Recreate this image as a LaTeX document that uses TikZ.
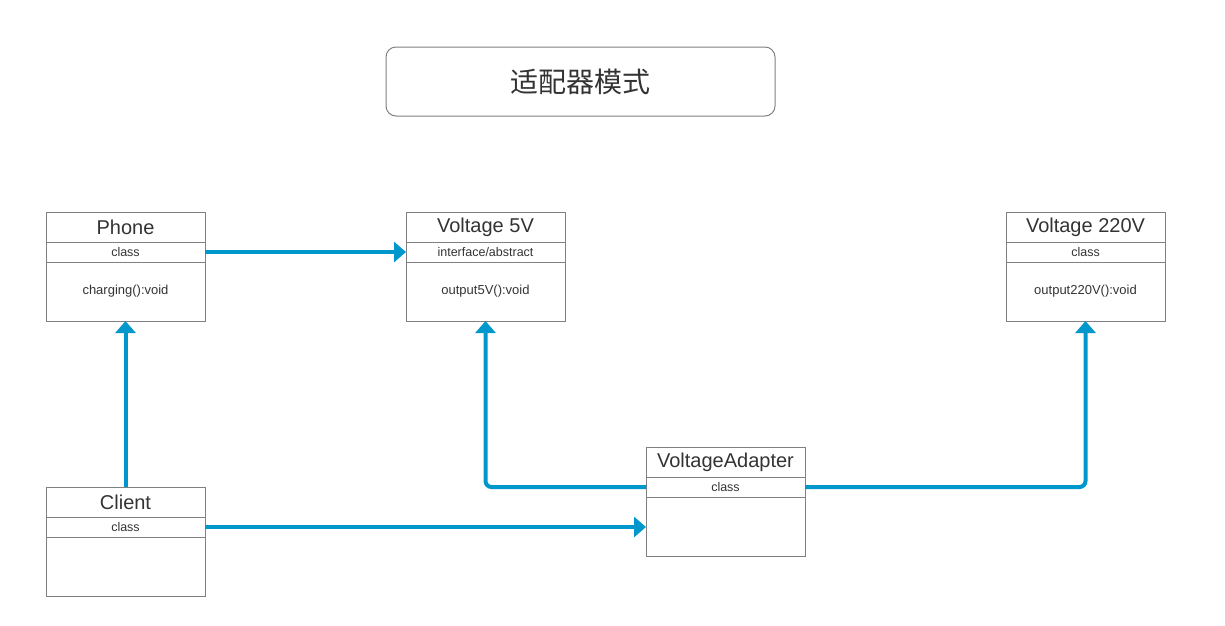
\documentclass[tikz,border=0pt]{standalone}
\usepackage{fontspec}
\setmainfont{Liberation Sans}
\newfontfamily\cjk{Noto Sans CJK SC}
\usetikzlibrary{positioning,arrows.meta}
\definecolor{boxgray}{RGB}{128,128,128}
\definecolor{textgray}{RGB}{51,51,51}
\definecolor{linkblue}{RGB}{0,151,204}
\tikzset{
  umlpart/.style={draw=boxgray, line width=1pt, minimum width=159pt, inner sep=0pt, outer sep=0pt, text=textgray},
  umltitle/.style={umlpart, minimum height=30pt, font=\fontsize{20}{24}\selectfont},
  umlkind/.style={umlpart, minimum height=20pt, font=\fontsize{12.5}{15}\selectfont},
  umlbody/.style={umlpart, minimum height=59pt, font=\fontsize{13}{16}\selectfont},
  link/.style={draw=linkblue, line width=4pt, rounded corners=6pt, -{Triangle[length=12pt,width=20pt]}}
}

\begin{document}
\begin{tikzpicture}[x=1pt, y=-1pt]
    \useasboundingbox (0,0) rectangle (1225,625);

    \node (title) at (580.5,81.5) [draw=boxgray, line width=1pt, rounded corners=10pt, minimum width=389pt, minimum height=69pt, text=textgray, font=\cjk\fontsize{28}{32}\selectfont] {适配器模式};

    % classes
    \node (phone-t) at (125.5,227) [umltitle] {Phone};
    \node (phone-k) [umlkind, below=0pt of phone-t] {class};
    \node (phone-m) [umlbody, below=0pt of phone-k] {charging():void};

    \node (v5-t) at (485.5,227) [umltitle] {Voltage 5V};
    \node (v5-k) [umlkind, below=0pt of v5-t] {interface/abstract};
    \node (v5-m) [umlbody, below=0pt of v5-k] {output5V():void};

    \node (v220-t) at (1085.5,227) [umltitle] {Voltage 220V};
    \node (v220-k) [umlkind, below=0pt of v220-t] {class};
    \node (v220-m) [umlbody, below=0pt of v220-k] {output220V():void};

    \node (client-t) at (125.5,502) [umltitle] {Client};
    \node (client-k) [umlkind, below=0pt of client-t] {class};
    \node (client-m) [umlbody, below=0pt of client-k] {};

    \node (adapter-t) at (725.5,462) [umltitle] {VoltageAdapter};
    \node (adapter-k) [umlkind, below=0pt of adapter-t] {class};
    \node (adapter-m) [umlbody, below=0pt of adapter-k] {};

    % links
    \draw [link] (phone-k.east) -- (v5-k.west);
    \draw [link] (client-t.north) -- (phone-m.south);
    \draw [link] (client-k.east) -- (client-k.east -| adapter-m.west);
    \draw [link] (adapter-k.west) -| (v5-m.south);
    \draw [link] (adapter-k.east) -| (v220-m.south);
\end{tikzpicture}
\end{document}
